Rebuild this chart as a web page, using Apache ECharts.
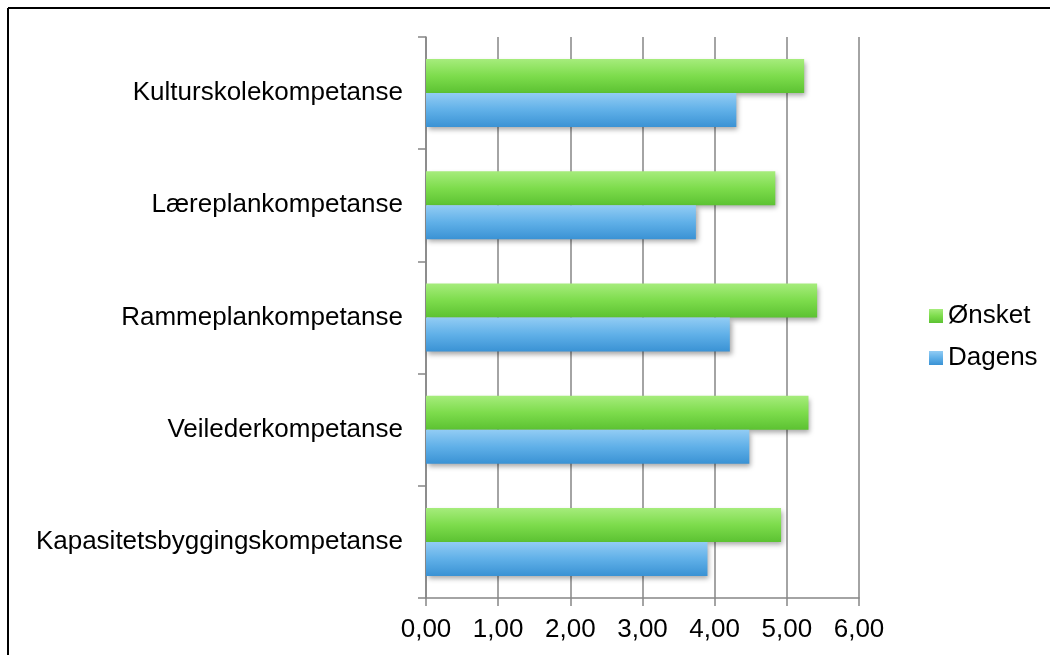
<!DOCTYPE html>
<html>
<head>
<meta charset="utf-8">
<script src="https://cdn.jsdelivr.net/npm/echarts@6/dist/echarts.min.js"></script>
<style>html,body{margin:0;padding:0;background:#fff}#c{width:1050px;height:655px}</style>
</head>
<body>
<div id="c"></div>
<script>
const categories = ['Kapasitetsbyggingskompetanse', 'Veilederkompetanse', 'Rammeplankompetanse', 'Læreplankompetanse', 'Kulturskolekompetanse'];
const onsket = [4.92, 5.30, 5.42, 4.84, 5.24];
const dagens = [3.90, 4.48, 4.21, 3.74, 4.30];
const seriesNames = ['Ønsket', 'Dagens'];
const xTicks = [0, 1, 2, 3, 4, 5, 6];

const chart = echarts.init(document.getElementById('c'), null, {renderer: 'canvas'});
const font = 'Liberation Sans, Arial, sans-serif';
const greenGrad = new echarts.graphic.LinearGradient(0, 0, 0, 1, [
  {offset: 0, color: '#a6ec7c'}, {offset: 0.5, color: '#7ddc4c'}, {offset: 1, color: '#5cc232'}]);
const blueGrad = new echarts.graphic.LinearGradient(0, 0, 0, 1, [
  {offset: 0, color: '#92ccf4'}, {offset: 0.5, color: '#60b0e8'}, {offset: 1, color: '#3a92d4'}]);
chart.setOption({
  animation: false,
  backgroundColor: '#fff',
  textStyle: {fontFamily: font},
  graphic: [
    {type: 'line', shape: {x1: 8, y1: 8, x2: 1050, y2: 8}, style: {stroke: '#000', lineWidth: 2}},
    {type: 'line', shape: {x1: 8, y1: 8, x2: 8, y2: 655}, style: {stroke: '#000', lineWidth: 2}}
  ],
  grid: {left: 426, right: 191, top: 37, bottom: 57, containLabel: false},
  legend: {
    orient: 'vertical', left: 924, top: 298,
    itemWidth: 14, itemHeight: 14, itemGap: 16, icon: 'rect',
    textStyle: {fontSize: 26, color: '#000', fontFamily: font},
    data: seriesNames
  },
  xAxis: {
    type: 'value', min: xTicks[0], max: xTicks[xTicks.length - 1], interval: 1,
    axisLine: {show: true, lineStyle: {color: '#868686', width: 1.5}},
    axisTick: {show: true, length: 8, lineStyle: {color: '#868686', width: 1.5}},
    splitLine: {show: true, lineStyle: {color: '#868686', width: 1.5}},
    axisLabel: {fontSize: 26, color: '#000', margin: 19,
      formatter: v => v.toFixed(2).replace('.', ',')}
  },
  yAxis: {
    type: 'category', data: categories,
    axisLine: {show: true, lineStyle: {color: '#868686', width: 1.5}},
    axisTick: {show: true, length: 8, lineStyle: {color: '#868686', width: 1.5}},
    axisLabel: {fontSize: 26, color: '#000', margin: 23}
  },
  series: [
    {name: seriesNames[0], type: 'bar', data: onsket, barWidth: 34, barGap: '0%',
      itemStyle: {color: greenGrad, shadowColor: 'rgba(0,0,0,0.35)', shadowBlur: 5, shadowOffsetX: 2, shadowOffsetY: 3}},
    {name: seriesNames[1], type: 'bar', data: dagens, barWidth: 34, barGap: '0%',
      itemStyle: {color: blueGrad, shadowColor: 'rgba(0,0,0,0.35)', shadowBlur: 5, shadowOffsetX: 2, shadowOffsetY: 3}}
  ]
});
</script>
</body>
</html>
